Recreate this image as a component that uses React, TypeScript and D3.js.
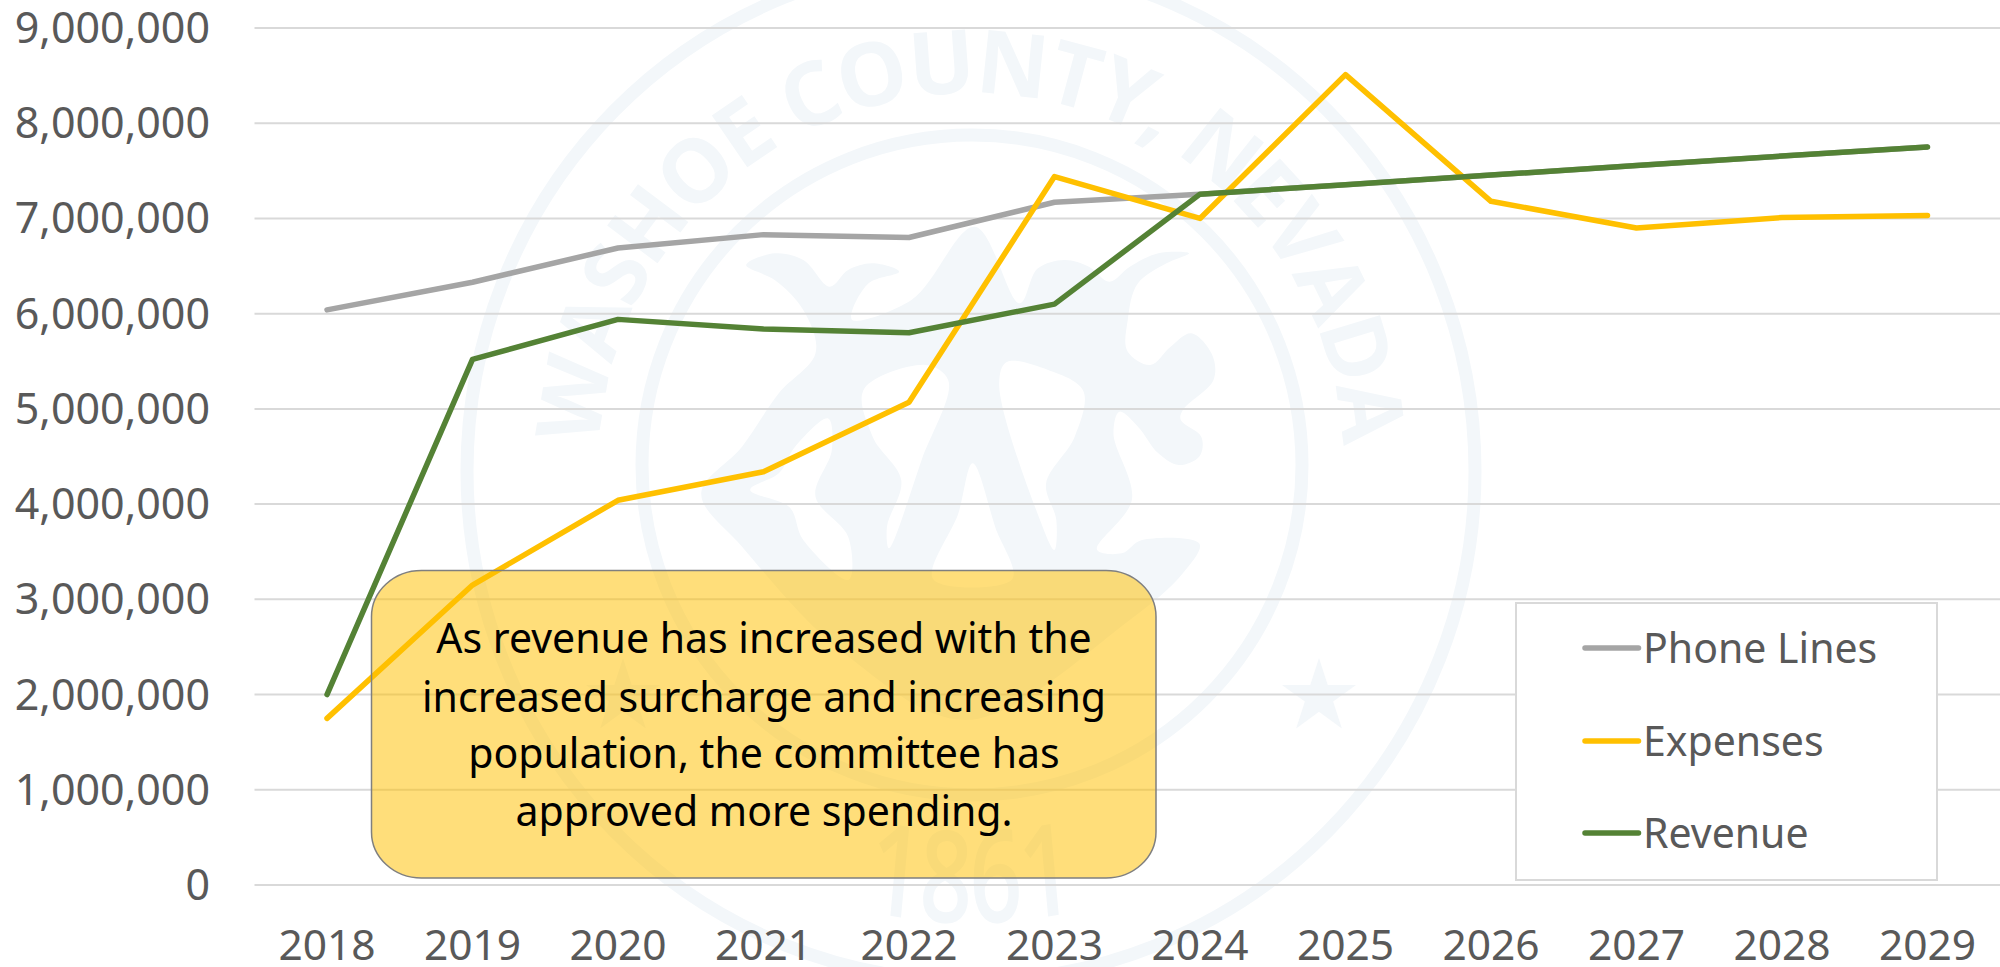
import React from "react";
import * as d3 from "d3";

const years = ["2018","2019","2020","2021","2022","2023","2024","2025","2026","2027","2028","2029"];
const phoneLines = [6040000,6330000,6690000,6830000,6800000,7170000,7255000,7355000,7455000,7555000,7655000,7750000];
const expenses = [1750000,3150000,4040000,4340000,5070000,7440000,7000000,8510000,7180000,6900000,7010000,7030000];
const revenue = [2000000,5520000,5940000,5840000,5800000,6100000,7255000,7355000,7455000,7555000,7655000,7750000];
const yTicks = [0,1000000,2000000,3000000,4000000,5000000,6000000,7000000,8000000,9000000];
const calloutLines = [
  "As revenue has increased with the",
  "increased surcharge and increasing",
  "population, the committee has",
  "approved more spending.",
];
const FONT = "'Noto Sans', Lato, sans-serif";
const WM = "#f3f7fa";

const x = d3.scalePoint<string>().domain(years).range([327, 1927.5]);
const y = d3.scaleLinear().domain([0, 9000000]).range([885, 28]);
const fmt = d3.format(",");
const series = [
  { name: "Phone Lines", values: phoneLines, color: "#a5a5a5", ly: 648 },
  { name: "Expenses", values: expenses, color: "#ffc000", ly: 741 },
  { name: "Revenue", values: revenue, color: "#548235", ly: 833 },
];
const lineGen = d3.line<number>().x((_, i) => x(years[i]) as number).y((d) => y(d));

// Decorative seal emblem, traced outlines
const emblemOuter: [number, number][] = [
  [260,135],[330,100],[400,120],[465,200],[510,150],[570,130],[635,155],[560,190],[520,300],[665,240],[820,20],[930,250],
  [975,145],[1040,120],[1100,140],[1150,185],[1200,140],[1270,100],[1345,100],[1290,130],[1220,190],[1195,300],[1195,395],
  [1250,435],[1300,380],[1350,340],[1400,400],[1405,480],[1330,570],[1325,600],[1375,650],[1370,710],[1320,735],[1270,700],
  [1220,620],[1175,575],[1160,640],[1205,840],[1120,990],[1180,1000],[1230,960],[1370,970],[1330,1060],[1200,1200],[800,1500],
  [500,1300],[250,980],[150,820],[250,680],[340,520],[430,400],[400,270],[330,180],
];
const emblemHoles: [number, number][][] = [
  [[900,425],[1000,450],[1085,510],[1065,650],[995,790],[1020,900],[1015,990],[980,900],[880,490]],
  [[550,505],[700,435],[755,480],[690,720],[610,985],[605,920],[640,780],[570,650]],
  [[460,595],[470,690],[430,830],[510,950],[510,1080],[400,960],[365,860],[270,810],[340,760],[380,680]],
  [[815,730],[870,920],[910,1080],[720,1080],[780,880]],
];
const closed = d3.line().curve(d3.curveCatmullRomClosed.alpha(0.5));
const emblemPath = closed(emblemOuter)! + emblemHoles.map((h) => closed(h)!).join("");
const star = d3.symbol().type(d3.symbolStar).size(1700)()!;

function Watermark() {
  return (
    <g>
      <ellipse cx={971} cy={471} rx={504} ry={510} fill="none" stroke={WM} strokeWidth={13} />
      <ellipse cx={972} cy={465} rx={330} ry={330} fill="none" stroke={WM} strokeWidth={13} />
      <defs>
        <path id="topArc" d="M 599 465 A 372 372 0 0 1 1343 465" />
        <path id="bottomArc" d="M 335 465 A 636 458 0 0 0 1607 465" />
      </defs>
      <text fontFamily="'Open Sans', sans-serif" fontWeight={700} fontSize={88} fill={WM} textAnchor="middle">
        <textPath href="#topArc" startOffset="50%" textLength={1130} lengthAdjust="spacing">WASHOE COUNTY, NEVADA</textPath>
      </text>
      <g transform="translate(971,0) scale(0.72,1) translate(-971,0)">
        <text fontFamily="'Open Sans', sans-serif" fontWeight={600} fontSize={128} fill={WM} textAnchor="middle">
          <textPath href="#bottomArc" startOffset="50%">1861</textPath>
        </text>
      </g>
      <path transform="translate(1319,697)" d={star} fill={WM} />
      <path transform="translate(623,697)" d={star} fill={WM} />
      <path transform={`translate(640,220) scale(${1 / 2.45},${1 / 3})`} d={emblemPath} fill={WM} fillRule="evenodd" />
    </g>
  );
}

export default function App() {
  return (
    <svg width={2000} height={967} viewBox="0 0 2000 967" style={{ position: "absolute", left: 0, top: 0, display: "block", background: "#fff" }}>
      <Watermark />
      {yTicks.map((t) => (
        <g key={t}>
          <line x1={254.5} x2={2000} y1={y(t)} y2={y(t)} stroke="#d9d9d9" strokeWidth={2} />
          <text x={210} y={y(t) + 15} textAnchor="end" fontFamily={FONT} fontSize={43} fill="#595959">{fmt(t)}</text>
        </g>
      ))}
      {years.map((yr) => (
        <text key={yr} x={x(yr)} y={960} textAnchor="middle" fontFamily={FONT} fontSize={42.5} fill="#595959">{yr}</text>
      ))}
      {series.map((s) => (
        <path key={s.name} d={lineGen(s.values)!} fill="none" stroke={s.color} strokeWidth={5.5} strokeLinecap="round" strokeLinejoin="round" />
      ))}
      <rect x={371.5} y={570.5} width={784.5} height={307.5} rx={50} ry={46} fill="#ffc000" fillOpacity={0.52} stroke="#7f7f7f" strokeWidth={1.5} />
      {calloutLines.map((l, i) => (
        <text key={l} x={764} y={[653, 712, 768, 826][i]} textAnchor="middle" fontFamily={FONT} fontSize={41} fill="#000">{l}</text>
      ))}
      <rect x={1516} y={603} width={421} height={277} fill="#fff" stroke="#d9d9d9" strokeWidth={2} />
      {series.map((s) => (
        <g key={s.name}>
          <line x1={1585} x2={1638.5} y1={s.ly} y2={s.ly} stroke={s.color} strokeWidth={5.5} strokeLinecap="round" />
          <text x={1643} y={s.ly + 15} fontFamily={FONT} fontSize={41} fill="#595959">{s.name}</text>
        </g>
      ))}
    </svg>
  );
}
